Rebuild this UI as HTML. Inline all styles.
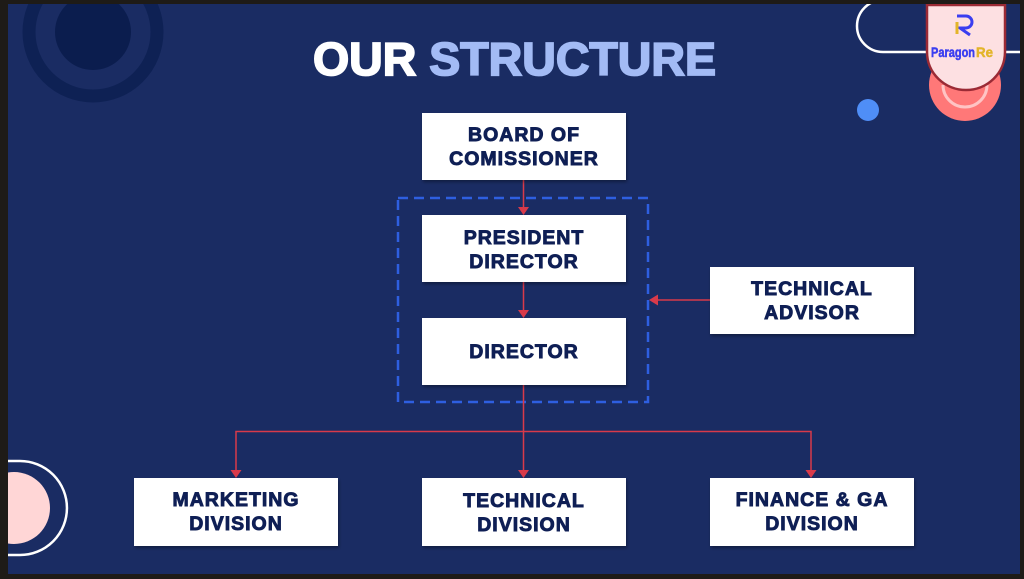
<!DOCTYPE html>
<html><head><meta charset="utf-8"><style>
html,body{margin:0;padding:0;background:#1e1b17;}
svg{display:block}
text{font-family:"Liberation Sans",Arial,sans-serif;font-weight:bold}
.b text{fill:#0f1f55;font-size:19.5px;letter-spacing:1px;text-anchor:middle;stroke:#0f1f55;stroke-width:0.9}
</style></head><body>
<svg width="1024" height="579" viewBox="0 0 1024 579" xmlns="http://www.w3.org/2000/svg">
<defs>
<filter id="sh" x="-10%" y="-10%" width="130%" height="140%"><feDropShadow dx="1" dy="2" stdDeviation="1.5" flood-color="#000" flood-opacity="0.35"/></filter>
<clipPath id="c"><rect x="8" y="4" width="1012" height="570"/></clipPath>
</defs>
<rect width="1024" height="579" fill="#1e1b17"/>
<rect x="8" y="4" width="1012" height="570" fill="#1a2c63"/>
<g clip-path="url(#c)">
<circle cx="93" cy="32" r="64" fill="none" stroke="#0e2154" stroke-width="13"/>
<circle cx="93" cy="32" r="38" fill="#0b1d4e"/>
<circle cx="14" cy="508" r="36" fill="#ffd6d6"/>
<path d="M0,461 H20 A47,47 0 0 1 20,555 H0" fill="none" stroke="#fff" stroke-width="2.5"/>
<path d="M1024,52 H883 A26,26 0 0 1 883,0 H940" fill="none" stroke="#fff" stroke-width="2.5"/>
<circle cx="965" cy="85" r="36" fill="#ff7878"/>
<path d="M943,85 A22,22 0 0 0 987,85" fill="none" stroke="#ffc4c4" stroke-width="3"/>
<path d="M927,5 H1005 V52 A39,38 0 0 1 927,52 Z" fill="#fde0e2" stroke="#9b2a35" stroke-width="2.5"/>
<path d="M957,16 H966 A6,6 0 0 1 966,28 H960 L970,35" fill="none" stroke="#3a3ef0" stroke-width="3"/>
<path d="M957,22 V34" stroke="#e3b52a" stroke-width="3"/>
<text x="931" y="57" font-size="14" fill="#3a3ef0" stroke="#3a3ef0" stroke-width="0.5" textLength="44" lengthAdjust="spacingAndGlyphs">Paragon</text>
<text x="976" y="57" font-size="14" fill="#e3b52a" stroke="#e3b52a" stroke-width="0.5" textLength="17" lengthAdjust="spacingAndGlyphs">Re</text>
<circle cx="868" cy="110" r="11" fill="#4f8ef7"/>
</g>
<text x="313" y="75" font-size="46" stroke-width="1.8" textLength="403" lengthAdjust="spacingAndGlyphs"><tspan fill="#fff" stroke="#fff">OUR </tspan><tspan fill="#a3bbf5" stroke="#a3bbf5">STRUCTURE</tspan></text>
<rect x="398" y="198" width="250" height="204" fill="none" stroke="#2e5fe0" stroke-width="2.5" stroke-dasharray="10,6"/>
<g stroke="#d83a4a" stroke-width="1.5" fill="none">
<line x1="523.5" y1="180" x2="523.5" y2="208"/>
<line x1="523.5" y1="282" x2="523.5" y2="310"/>
<line x1="523.5" y1="385" x2="523.5" y2="470"/>
<polyline points="236,470 236,431.5 811,431.5 811,470"/>
<line x1="710" y1="300" x2="656" y2="300"/>
</g>
<g fill="#d83a4a">
<path d="M518,207 H529 L523.5,215 z"/>
<path d="M518,310 H529 L523.5,318 z"/>
<path d="M518,470 H529 L523.5,478 z"/>
<path d="M230.5,470 H241.5 L236,478 z"/>
<path d="M805.5,470 H816.5 L811,478 z"/>
<path d="M649,300 L658,294.5 L658,305.5 z"/>
</g>
<g class="b">
<g filter="url(#sh)">
<rect x="422" y="113" width="204" height="67" fill="#fff"/>
<rect x="422" y="215" width="204" height="67" fill="#fff"/>
<rect x="422" y="318" width="204" height="67" fill="#fff"/>
<rect x="710" y="267" width="204" height="67" fill="#fff"/>
<rect x="134" y="478" width="204" height="68" fill="#fff"/>
<rect x="422" y="478" width="204" height="68" fill="#fff"/>
<rect x="710" y="478" width="204" height="68" fill="#fff"/>
</g>
<text x="524" y="141">BOARD OF</text><text x="524" y="165">COMISSIONER</text>
<text x="524" y="244">PRESIDENT</text><text x="524" y="268">DIRECTOR</text>
<text x="524" y="358">DIRECTOR</text>
<text x="812" y="295">TECHNICAL</text><text x="812" y="319">ADVISOR</text>
<text x="236" y="506">MARKETING</text><text x="236" y="530">DIVISION</text>
<text x="524" y="507">TECHNICAL</text><text x="524" y="531">DIVISION</text>
<text x="812" y="506">FINANCE &amp; GA</text><text x="812" y="530">DIVISION</text>
</g>
</svg>
</body></html>
